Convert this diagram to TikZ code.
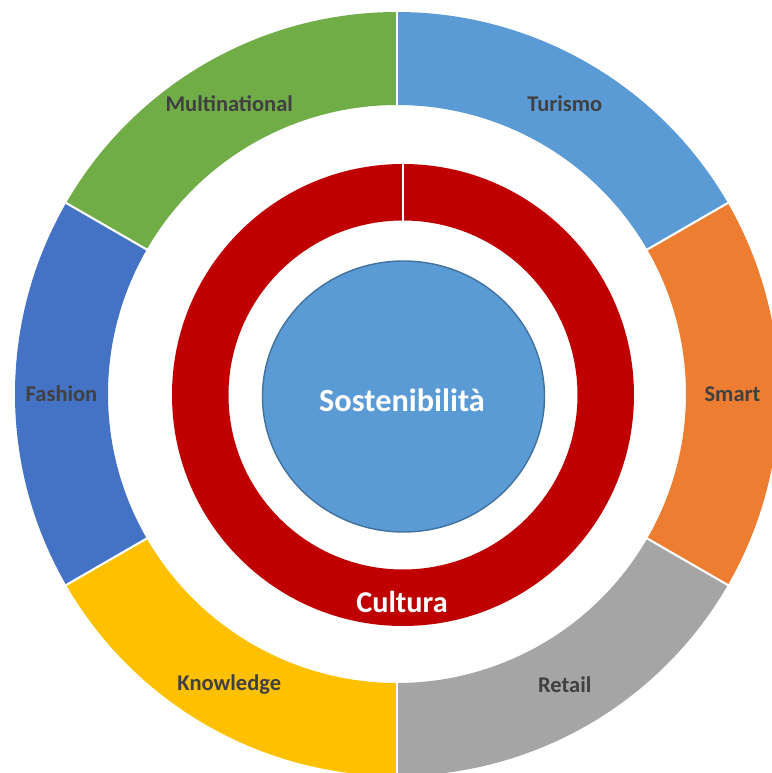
\documentclass[tikz,border=0pt]{standalone}
\usepackage{fontspec}
\setmainfont{Carlito}
\usetikzlibrary{positioning}
\definecolor{segblue}{HTML}{5B9BD5}
\definecolor{segorange}{HTML}{ED7D31}
\definecolor{seggray}{HTML}{A5A5A5}
\definecolor{segyellow}{HTML}{FFC000}
\definecolor{segdarkblue}{HTML}{4472C4}
\definecolor{seggreen}{HTML}{70AD47}
\definecolor{ringred}{HTML}{C00000}
\definecolor{coreedge}{HTML}{41719C}
\definecolor{labgray}{HTML}{404040}

\begin{document}
\begin{tikzpicture}[
    every node/.style={font=\bfseries},
    seglab/.style={text=labgray, font=\bfseries\fontsize{6.4}{7.7}\selectfont},
    sep/.style={white, line width=0.6pt},
    corelab/.style={text=white, font=\bfseries\fontsize{9.2}{11}\selectfont},
    ringlab/.style={text=white, font=\bfseries\fontsize{8.6}{10}\selectfont}
]
\useasboundingbox (-3.97,-3.79) rectangle (3.75,3.94);

% Outer ring segments
\foreach \a/\b/\col/\txt [count=\i] in {90/30/segblue/Turismo, 30/-30/segorange/Smart, -30/-90/seggray/Retail, -90/-150/segyellow/Knowledge, -150/-210/segdarkblue/Fashion, 150/90/seggreen/Multinational}{
    \fill[\col] (\a:3.82) arc[start angle=\a, end angle=\b, radius=3.82]
        -- (\b:2.89) arc[start angle=\b, end angle=\a, radius=2.89] -- cycle;
    \node[seglab] (seg\i) at ({(\a+\b)/2}:3.355) {\txt};
}
\foreach \a in {90,30,-30,-90,-150,150}
    \draw[sep] (\a:2.87) -- (\a:3.84);

% Culture ring
\coordinate (mid) at (0.06,-0.01);
\fill[ringred, even odd rule] (mid) circle[radius=2.31] (mid) circle[radius=1.745];
\coordinate (cuttop) at ([yshift=2.33cm]mid);
\coordinate (cutbot) at ([yshift=1.73cm]mid);
\draw[sep] (cutbot) -- (cuttop);
\node[ringlab] (cult) at (0.05,-2.08) {Cultura};

% Core
\draw[coreedge, fill=segblue, line width=0.4pt] (0.065,-0.025) ellipse[x radius=1.41, y radius=1.355];
\node[corelab] (core) at (0.05,-0.06) {Sostenibilità};
\end{tikzpicture}
\end{document}
